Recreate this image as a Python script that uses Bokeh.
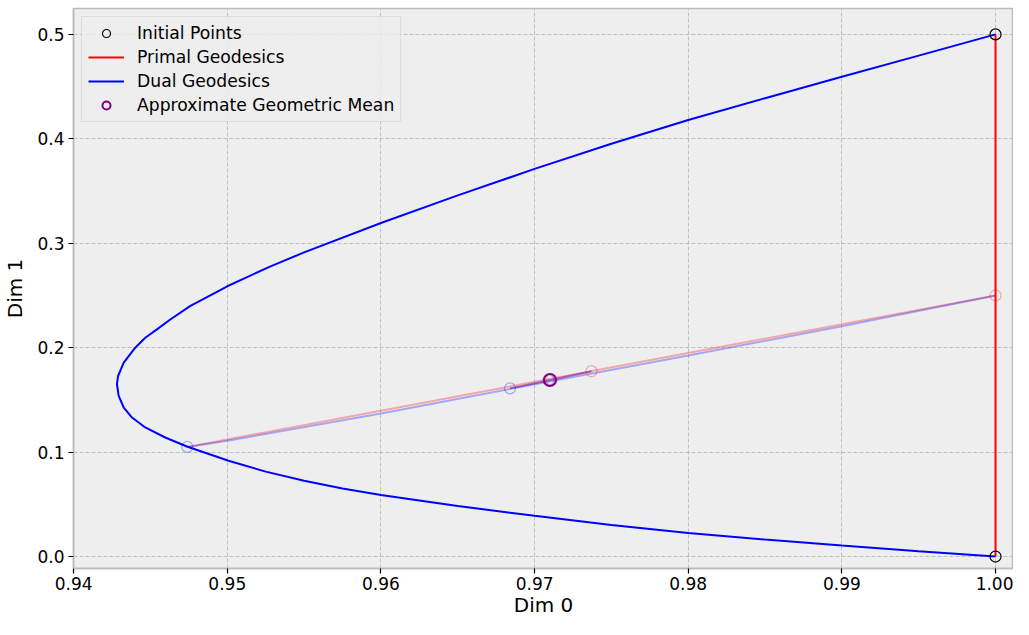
from bokeh.plotting import figure
from bokeh.models import Range1d, FixedTicker, PrintfTickFormatter, Legend, LegendItem
from bokeh.embed import file_html
from bokeh.resources import INLINE

# Initial points
initial_x = [1.0, 1.0]
initial_y = [0.5, 0.0]

# Primal geodesic between the initial points
primal_x = [1.0, 1.0]
primal_y = [0.0, 0.5]

# Dual geodesic between the initial points
dual_x = [1.0, 0.995, 0.99, 0.985, 0.98, 0.975, 0.97, 0.965, 0.96, 0.955, 0.9527,
          0.95, 0.9476, 0.94629, 0.94542, 0.94466, 0.94401, 0.94326, 0.94289, 0.94282,
          0.94293, 0.94326, 0.9438, 0.94466, 0.94596, 0.94737, 0.95008, 0.9525, 0.955,
          0.9575, 0.96, 0.965, 0.97, 0.975, 0.98, 0.985, 0.99, 0.995, 1.0]
dual_y = [0.5, 0.4797, 0.4594, 0.4389, 0.418, 0.3953, 0.3712, 0.3458, 0.3194, 0.2913, 0.2772,
          0.2588, 0.24, 0.227, 0.2175, 0.2095, 0.2, 0.1857, 0.1729, 0.165,
          0.1538, 0.1427, 0.1331, 0.1236, 0.114, 0.1054, 0.0917, 0.0813, 0.0726,
          0.0652, 0.059, 0.0484, 0.039, 0.0302, 0.0226, 0.0163, 0.0105, 0.0051, 0.0]

# Iteration 1: primal (red, faint) and dual (blue, faint) geodesics between the midpoints
it1_primal_x = [1.0, 0.9474]
it1_primal_y = [0.25, 0.105]
it1_dual_x = [1.0, 0.99, 0.98, 0.97, 0.96, 0.95, 0.9474]
it1_dual_y = [0.25, 0.2205, 0.1925, 0.165, 0.137, 0.1108, 0.105]

# Iteration 2
it2_primal_x = [0.9737, 0.9684]
it2_primal_y = [0.1775, 0.161]
it2_dual_x = [0.9737, 0.9710, 0.9684]
it2_dual_y = [0.1775, 0.1688, 0.161]

# Midpoints
primal_mid_x = [1.0, 0.9737, 0.9711]
primal_mid_y = [0.25, 0.1775, 0.1693]
dual_mid_x = [0.9474, 0.9684, 0.9709]
dual_mid_y = [0.105, 0.161, 0.1688]

# Approximate geometric mean
mean_x = [0.9710]
mean_y = [0.1691]

x_ticks = [0.94, 0.95, 0.96, 0.97, 0.98, 0.99, 1.00]
y_ticks = [0.0, 0.1, 0.2, 0.3, 0.4, 0.5]

FONT = "DejaVu Sans"

p = figure(width=1013, height=619, output_backend="svg", toolbar_location=None,
           x_range=Range1d(0.93999, 1.00117), y_range=Range1d(-0.01145, 0.5248),
           min_border_left=72, min_border_right=0, min_border_top=8, min_border_bottom=49)

p.background_fill_color = "#eeeeee"
p.border_fill_color = "white"
p.outline_line_color = "#bcbcbc"
p.outline_line_width = 1.5

for ax in (p.xaxis[0], p.yaxis[0]):
    ax.axis_line_color = "#bcbcbc"
    ax.axis_line_width = 1.5
    ax.major_tick_line_color = "black"
    ax.major_tick_line_width = 1.2
    ax.major_tick_out = 5
    ax.major_tick_in = 0
    ax.minor_tick_line_color = None
    ax.major_label_text_font = FONT
    ax.major_label_text_font_size = "17px"
    ax.major_label_text_color = "black"
    ax.major_label_standoff = 3
    ax.axis_label_text_font = FONT
    ax.axis_label_text_font_size = "20px"
    ax.axis_label_text_font_style = "normal"
    ax.axis_label_text_color = "black"
    ax.axis_label_standoff = 0

p.yaxis[0].axis_label_standoff = 7
p.yaxis[0].major_label_standoff = 4

p.xaxis.ticker = FixedTicker(ticks=x_ticks)
p.yaxis.ticker = FixedTicker(ticks=y_ticks)
p.xaxis.formatter = PrintfTickFormatter(format="%.2f")
p.yaxis.formatter = PrintfTickFormatter(format="%.1f")
p.xaxis.axis_label = "Dim 0"
p.yaxis.axis_label = "Dim 1"

p.grid.grid_line_color = "#b2b2b2"
p.grid.grid_line_dash = "4 2"
p.grid.grid_line_width = 0.8

# faint iteration lines
p.line(it1_primal_x, it1_primal_y, line_color="red", line_alpha=0.3, line_width=2)
p.line(it1_dual_x, it1_dual_y, line_color="blue", line_alpha=0.3, line_width=2)
p.line(it2_primal_x, it2_primal_y, line_color="red", line_alpha=0.3, line_width=2)
p.line(it2_dual_x, it2_dual_y, line_color="blue", line_alpha=0.3, line_width=2)
p.scatter(primal_mid_x, primal_mid_y, marker="circle", size=11, fill_color=None,
          line_color="red", line_alpha=0.3, line_width=1.2)
p.scatter(dual_mid_x, dual_mid_y, marker="circle", size=11, fill_color=None,
          line_color="blue", line_alpha=0.3, line_width=1.2)

r_primal = p.line(primal_x, primal_y, line_color="red", line_width=2)
r_dual = p.line(dual_x, dual_y, line_color="blue", line_width=2)
r_init = p.scatter(initial_x, initial_y, marker="circle", size=11, fill_color=None,
                   line_color="black", line_width=1.2)
r_mean = p.scatter(mean_x, mean_y, marker="circle", size=12, fill_color=None,
                   line_color="purple", line_width=2)

legend = Legend(items=[
    LegendItem(label="Initial Points", renderers=[r_init]),
    LegendItem(label="Primal Geodesics", renderers=[r_primal]),
    LegendItem(label="Dual Geodesics", renderers=[r_dual]),
    LegendItem(label="Approximate Geometric Mean", renderers=[r_mean]),
], location="top_left")
legend.margin = 8
legend.padding = 6
legend.spacing = 4
legend.glyph_width = 36
legend.glyph_height = 20
legend.label_standoff = 13
legend.label_text_font = FONT
legend.label_text_font_size = "17.2px"
legend.label_text_color = "black"
legend.background_fill_color = "#eeeeee"
legend.background_fill_alpha = 0.8
legend.border_line_color = "#cccccc"
legend.border_line_width = 1
p.add_layout(legend)

open("out.html", "w").write(file_html(p, INLINE))
